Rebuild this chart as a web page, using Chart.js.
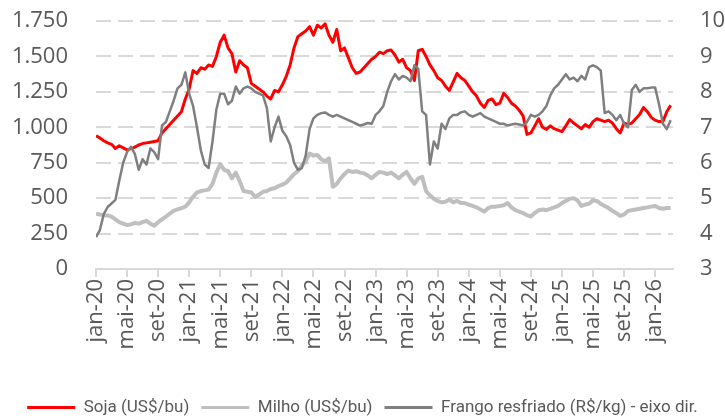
<!DOCTYPE html>
<html>
<head>
<meta charset="utf-8">
<script src="https://cdn.jsdelivr.net/npm/chart.js@4.4.1/dist/chart.umd.min.js"></script>
<style>
  html, body { margin: 0; padding: 0; background: #ffffff; }
</style>
</head>
<body>
<canvas id="c" width="725" height="418"></canvas>
<script>
// Semi-monthly observation dates
const dates = [
 '2020-01-01','2020-01-16','2020-02-01','2020-02-16','2020-03-01','2020-03-16','2020-04-01','2020-04-16','2020-05-01','2020-05-16',
 '2020-06-01','2020-06-16','2020-07-01','2020-07-16','2020-08-01','2020-08-16','2020-09-01','2020-09-16','2020-10-01','2020-10-16',
 '2020-11-01','2020-11-16','2020-12-01','2020-12-16','2021-01-01','2021-01-16','2021-02-01','2021-02-16','2021-03-01','2021-03-16',
 '2021-04-01','2021-04-16','2021-05-01','2021-05-16','2021-06-01','2021-06-16','2021-07-01','2021-07-16','2021-08-01','2021-08-16',
 '2021-09-01','2021-09-16','2021-10-01','2021-10-16','2021-11-01','2021-11-16','2021-12-01','2021-12-16','2022-01-01','2022-01-16',
 '2022-02-01','2022-02-16','2022-03-01','2022-03-16','2022-04-01','2022-04-16','2022-05-01','2022-05-16','2022-06-01','2022-06-16',
 '2022-07-01','2022-07-16','2022-08-01','2022-08-16','2022-09-01','2022-09-16','2022-10-01','2022-10-16','2022-11-01','2022-11-16',
 '2022-12-01','2022-12-16','2023-01-01','2023-01-16','2023-02-01','2023-02-16','2023-03-01','2023-03-16','2023-04-01','2023-04-16',
 '2023-05-01','2023-05-16','2023-06-01','2023-06-16','2023-07-01','2023-07-16','2023-08-01','2023-08-16','2023-09-01','2023-09-16',
 '2023-10-01','2023-10-16','2023-11-01','2023-11-16','2023-12-01','2023-12-16','2024-01-01','2024-01-16','2024-02-01','2024-02-16',
 '2024-03-01','2024-03-16','2024-04-01','2024-04-16','2024-05-01','2024-05-16','2024-06-01','2024-06-16','2024-07-01','2024-07-16',
 '2024-08-01','2024-08-16','2024-09-01','2024-09-16','2024-10-01','2024-10-16','2024-11-01','2024-11-16','2024-12-01','2024-12-16',
 '2025-01-01','2025-01-16','2025-02-01','2025-02-16','2025-03-01','2025-03-16','2025-04-01','2025-04-16','2025-05-01','2025-05-16',
 '2025-06-01','2025-06-16','2025-07-01','2025-07-16','2025-08-01','2025-08-16','2025-09-01','2025-09-16','2025-10-01','2025-10-16',
 '2025-11-01','2025-11-16','2025-12-01','2025-12-16','2026-01-01','2026-01-16','2026-02-01','2026-02-16','2026-03-01'
];

// Soja (US$/bu)
const soja = [
 940,925,905,890,880,850,870,855,840,850,
 860,875,885,890,895,900,905,960,990,1020,
 1050,1080,1110,1200,1270,1400,1380,1420,1410,1440,
 1430,1500,1600,1650,1560,1520,1390,1470,1440,1420,
 1310,1290,1270,1250,1220,1200,1260,1250,1300,1360,
 1440,1560,1640,1660,1680,1710,1650,1720,1700,1730,
 1650,1600,1690,1540,1560,1490,1420,1380,1390,1420,
 1450,1480,1500,1530,1520,1540,1545,1510,1460,1480,
 1420,1400,1330,1540,1550,1500,1440,1400,1350,1330,
 1290,1260,1320,1380,1350,1330,1290,1250,1220,1170,
 1140,1190,1200,1160,1170,1240,1210,1170,1150,1120,
 1080,950,960,1010,1060,1000,985,1010,990,980,
 970,1010,1055,1030,1010,990,1020,1000,1040,1060,
 1050,1040,1050,1030,990,960,1030,1020,1030,1060,
 1090,1140,1110,1070,1050,1040,1040,1110,1155
];

// Milho (US$/bu)
const milho = [
 390,385,380,378,370,350,330,320,310,315,
 325,320,330,340,320,305,330,350,370,390,
 410,420,430,440,470,510,540,550,555,560,
 600,680,740,700,690,640,680,620,550,545,
 540,510,525,545,550,565,570,585,595,610,
 640,670,690,730,760,815,800,805,775,760,
 780,580,600,640,670,695,685,690,680,675,
 660,640,665,685,680,670,680,660,640,665,
 685,640,600,640,650,550,520,495,480,470,
 475,490,470,480,465,465,455,445,435,420,
 405,430,440,440,445,450,465,435,415,405,
 395,380,370,395,415,420,415,425,435,445,
 465,480,495,500,485,445,455,460,485,480,
 460,445,430,410,395,375,385,410,415,420,
 425,430,435,440,445,430,425,430,430
];

// Frango resfriado (R$/kg) - eixo dir.
const frango = [
 3.9,4.1,4.55,4.75,4.85,4.95,5.5,6.0,6.3,6.45,
 6.25,5.8,6.1,5.95,6.4,6.3,6.1,7.05,7.15,7.45,
 7.75,8.1,8.2,8.55,7.95,7.6,7.0,6.35,5.95,5.85,
 6.6,7.5,7.95,7.95,7.65,7.75,8.15,7.95,8.1,8.15,
 8.1,8.0,7.95,7.9,7.55,6.6,7.0,7.3,6.9,6.75,
 6.5,6.0,5.8,5.85,6.2,6.95,7.25,7.35,7.4,7.42,
 7.35,7.3,7.35,7.3,7.25,7.2,7.15,7.1,7.05,7.08,
 7.12,7.1,7.35,7.45,7.6,8.0,8.3,8.5,8.35,8.45,
 8.4,8.3,8.75,8.65,7.45,7.35,5.95,6.6,6.4,7.1,
 6.95,7.25,7.35,7.35,7.42,7.45,7.35,7.3,7.35,7.4,
 7.3,7.25,7.2,7.15,7.1,7.1,7.05,7.08,7.1,7.08,
 7.05,7.15,7.35,7.3,7.35,7.45,7.6,7.9,8.1,8.2,
 8.35,8.5,8.35,8.4,8.3,8.45,8.35,8.7,8.75,8.7,
 8.6,7.4,7.45,7.35,7.2,7.35,7.1,7.0,8.05,8.2,
 8.0,8.1,8.1,8.12,8.12,7.65,7.1,6.95,7.2
];

// X tick labels (every 4 months from jan-20)
const tickLabels = ['jan-20','mai-20','set-20','jan-21','mai-21','set-21','jan-22','mai-22','set-22',
  'jan-23','mai-23','set-23','jan-24','mai-24','set-24','jan-25','mai-25','set-25','jan-26'];

const seriesNames = ['Soja (US$/bu)', 'Milho (US$/bu)', 'Frango resfriado (R$/kg) - eixo dir.'];
const seriesColors = ['#ff0000', '#bfbfbf', '#7f7f7f'];

// months elapsed since jan-2020 for each date
function monthIndex(s) {
  const y = +s.slice(0, 4), m = +s.slice(5, 7), d = +s.slice(8, 10);
  return (y - 2020) * 12 + (m - 1) + (d - 1) / 30;
}
const xs = dates.map(monthIndex);
const pts = arr => arr.map((v, i) => ({ x: xs[i], y: v }));

function fmtThousands(v) {
  return String(Math.round(v)).replace(/\B(?=(\d{3})+(?!\d))/g, '.');
}

const GRID = '#d9d9d9';
const TXT = '#595959';
const PAD_BOTTOM = -8;
const PLOT_LEFT = 96;
const PLOT_BOTTOM = 269;
const tickFont = { family: '"Open Sans", sans-serif', size: 22 };

// Dashed horizontal grid and x tick marks, placed with the chart's own scales,
// painted underneath the already-drawn content (destination-over).
const gridPlugin = {
  id: 'axisGrid',
  afterDraw(chart) {
    const { ctx, chartArea: a, scales } = chart;
    const y = scales.y, x = scales.x;
    ctx.save();
    ctx.globalCompositeOperation = 'destination-over';
    ctx.setLineDash([]);
    ctx.strokeStyle = GRID;
    ctx.lineWidth = 2;
    ctx.lineCap = 'butt';
    ctx.beginPath();
    y.ticks.forEach(t => {
      if (t.value === 0) return;
      const py = Math.round(y.getPixelForValue(t.value));
      for (let sx = a.left; sx < a.right; sx += 22) {
        ctx.moveTo(sx, py);
        ctx.lineTo(Math.min(sx + 15, a.right), py);
      }
    });
    x.ticks.forEach(t => {
      const px = Math.round(x.getPixelForValue(t.value));
      ctx.moveTo(px, a.bottom);
      ctx.lineTo(px, a.bottom + 8);
    });
    ctx.moveTo(a.left, a.bottom);
    ctx.lineTo(a.right, a.bottom);
    ctx.stroke();
    ctx.restore();
  }
};

new Chart(document.getElementById('c'), {
  type: 'line',
  data: {
    datasets: [
      { label: seriesNames[0], data: pts(soja), yAxisID: 'y', borderColor: seriesColors[0], backgroundColor: seriesColors[0], borderWidth: 3, order: 1 },
      { label: seriesNames[1], data: pts(milho), yAxisID: 'y', borderColor: seriesColors[1], backgroundColor: seriesColors[1], borderWidth: 4, order: 2 },
      { label: seriesNames[2], data: pts(frango), yAxisID: 'y1', borderColor: seriesColors[2], backgroundColor: seriesColors[2], borderWidth: 2.5, order: 0 }
    ]
  },
  plugins: [gridPlugin],
  options: {
    responsive: false,
    animation: false,
    devicePixelRatio: 1,
    layout: { padding: { top: 21, left: 0, right: 0, bottom: PAD_BOTTOM } },
    elements: { point: { radius: 0 }, line: { borderJoinStyle: 'round' } },
    plugins: {
      tooltip: { enabled: false },
      legend: {
        position: 'bottom',
        labels: {
          boxWidth: 48,
          boxHeight: 3,
          padding: 12,
          color: TXT,
          font: { family: 'Roboto, sans-serif', size: 17 },
          generateLabels: (chart) => chart.data.datasets.map((ds, i) => ({
            text: ds.label,
            fillStyle: ds.borderColor,
            strokeStyle: ds.borderColor,
            lineWidth: 0,
            fontColor: TXT,
            hidden: false,
            datasetIndex: i
          }))
        }
      }
    },
    scales: {
      x: {
        type: 'linear',
        min: 0,
        max: 74.3,
        afterFit: (s) => { s.height = 418 - PLOT_BOTTOM - s.chart.legend.height - PAD_BOTTOM; },
        afterBuildTicks: (s) => { s.ticks = tickLabels.map((_, i) => ({ value: i * 4 })); },
        ticks: {
          autoSkip: false,
          maxRotation: 90,
          minRotation: 90,
          padding: 10,
          color: TXT,
          font: tickFont,
          callback: (v) => tickLabels[Math.round(v / 4)]
        },
        grid: { display: false, drawTicks: false },
        border: { display: true, color: GRID, width: 2 }
      },
      y: {
        position: 'left',
        min: 0,
        max: 1750,
        afterFit: (s) => { s.width = PLOT_LEFT; s.paddingTop = 0; s.paddingBottom = 0; },
        ticks: { stepSize: 250, padding: 28, color: TXT, font: tickFont, callback: (v) => fmtThousands(v) },
        grid: { display: false, drawTicks: false },
        border: { display: false }
      },
      y1: {
        position: 'right',
        min: 3,
        max: 10,
        afterFit: (s) => { s.width = 52; s.paddingTop = 0; s.paddingBottom = 0; },
        ticks: { stepSize: 1, padding: 27, color: TXT, font: tickFont },
        grid: { display: false, drawTicks: false },
        border: { display: false }
      }
    }
  }
});
</script>
</body>
</html>
